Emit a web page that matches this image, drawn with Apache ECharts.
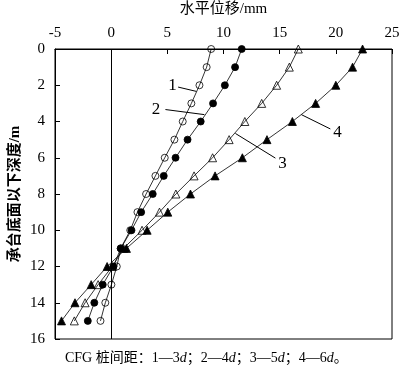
<!DOCTYPE html>
<html>
<head>
<meta charset="utf-8">
<script src="https://cdn.jsdelivr.net/npm/echarts@6/dist/echarts.min.js"></script>
<style>html,body{margin:0;padding:0;background:#fff}#c{width:400px;height:366px}</style>
</head>
<body>
<div id="c"></div>
<script>
var depths = [0, 1, 2, 3, 4, 5, 6, 7, 8, 9, 10, 11, 12, 13, 14, 15];
var s1 = [8.9, 8.5, 7.86, 7.14, 6.37, 5.63, 4.77, 3.94, 3.11, 2.34, 1.7, 0.85, 0.5, 0.02, -0.52, -0.95];
var s2 = [11.62, 11.03, 10.12, 9.07, 7.97, 6.8, 5.73, 4.68, 3.7, 2.67, 1.81, 0.85, 0.2, -0.75, -1.5, -2.08];
var s3 = [16.66, 15.86, 14.73, 13.4, 11.9, 10.5, 9.03, 7.38, 5.76, 4.3, 2.75, 1.1, 0.1, -1.16, -2.32, -3.28];
var s4 = [22.38, 21.49, 20.0, 18.2, 16.13, 13.87, 11.68, 9.25, 7.06, 5.04, 3.2, 1.36, -0.36, -1.78, -3.22, -4.42];
var seriesNames = ['1', '2', '3', '4'];
var xTicks = [-5, 0, 5, 10, 15, 20, 25];
var yTicks = [0, 2, 4, 6, 8, 10, 12, 14, 16];
// annotation leader lines: [x1, y1, x2, y2] and text anchors in data units
var leaders = [[5.96, 2.10, 7.59, 2.34], [4.83, 3.34, 8.30, 3.62], [11.06, 4.66, 14.62, 6.02], [16.93, 3.62, 19.51, 4.41]];
var leaderText = [[5.45, 2.0], [4.0, 3.34], [15.25, 6.33], [20.15, 4.6]];

var serif = 'Liberation Serif, Noto Sans CJK SC, serif';
function pairs(arr) { return arr.map(function (v, i) { return [v, depths[i]]; }); }
function mk(name, vals, symbol, filled, size) {
  return {
    name: name, type: 'line', data: pairs(vals), symbol: symbol, symbolSize: size,
    showAllSymbol: true, animation: false, silent: true, z: 3,
    lineStyle: { color: '#000', width: 0.8 },
    itemStyle: { color: filled ? '#000' : 'rgba(255,255,255,0)', borderColor: '#000', borderWidth: 0.8 }
  };
}
var chart = echarts.init(document.getElementById('c'), null, { renderer: 'canvas' });
var series = [
  mk(seriesNames[0], s1, 'circle', false, 7),
  mk(seriesNames[1], s2, 'circle', true, 7),
  mk(seriesNames[2], s3, 'triangle', false, 8),
  mk(seriesNames[3], s4, 'triangle', true, 8)
];
series.push({
  type: 'line', data: [], silent: true, animation: false,
  markLine: {
    silent: true, symbol: ['none', 'none'], animation: false,
    lineStyle: { color: '#000', width: 1, type: 'solid' }, label: { show: false },
    data: [[{ coord: [0, 0] }, { coord: [0, 16] }]].concat(leaders.map(function (l) {
      return [{ coord: [l[0], l[1]] }, { coord: [l[2], l[3]] }];
    }))
  },
  markPoint: {
    silent: true, animation: false, symbol: 'rect', symbolSize: 1,
    itemStyle: { color: 'rgba(0,0,0,0)' },
    label: { show: true, position: 'inside', color: '#000', fontFamily: serif, fontSize: 17 },
    data: leaderText.map(function (t, i) { return { coord: t, value: seriesNames[i], label: { formatter: seriesNames[i] } }; })
  }
});
chart.setOption({
  animation: false,
  backgroundColor: '#fff',
  grid: { left: 55, right: 8, top: 49, bottom: 27, show: true, borderColor: '#000', borderWidth: 1, containLabel: false, outerBoundsMode: 'none' },
  xAxis: {
    type: 'value', position: 'top', min: xTicks[0], max: xTicks[xTicks.length - 1], interval: 5,
    name: '水平位移/mm', nameLocation: 'middle', nameGap: 32, nameMoveOverlap: false,
    nameTextStyle: { fontFamily: serif, fontSize: 15, color: '#000' },
    axisLine: { show: true, onZero: false, lineStyle: { color: '#000', width: 1 } },
    axisTick: { show: true, inside: true, length: 5, lineStyle: { color: '#000' } },
    axisLabel: { color: '#000', fontFamily: serif, fontSize: 15, margin: 8 },
    splitLine: { show: false }
  },
  yAxis: {
    type: 'value', inverse: true, min: yTicks[0], max: yTicks[yTicks.length - 1], interval: 2,
    name: '承台底面以下深度/m', nameLocation: 'middle', nameGap: 32, nameRotate: 90, nameMoveOverlap: false,
    nameTextStyle: { fontFamily: serif, fontSize: 15, fontWeight: 'bold', color: '#000' },
    axisLine: { show: true, onZero: false, lineStyle: { color: '#000', width: 1 } },
    axisTick: { show: true, inside: true, length: 5, lineStyle: { color: '#000' } },
    axisLabel: { color: '#000', fontFamily: serif, fontSize: 15, margin: 10 },
    splitLine: { show: false }
  },
  title: {
    left: 60, top: 346,
    text: '{a|CFG 桩间距：1—3}{i|d}{a|；2—4}{i|d}{a|；3—5}{i|d}{a|；4—6}{i|d}{a|。}',
    textStyle: {
      fontWeight: 'normal',
      rich: {
        a: { fontFamily: serif, fontSize: 14, fontWeight: 'normal', color: '#000' },
        i: { fontFamily: serif, fontSize: 14, fontStyle: 'italic', fontWeight: 'normal', color: '#000' }
      }
    }
  },
  series: series
});
</script>
</body>
</html>
